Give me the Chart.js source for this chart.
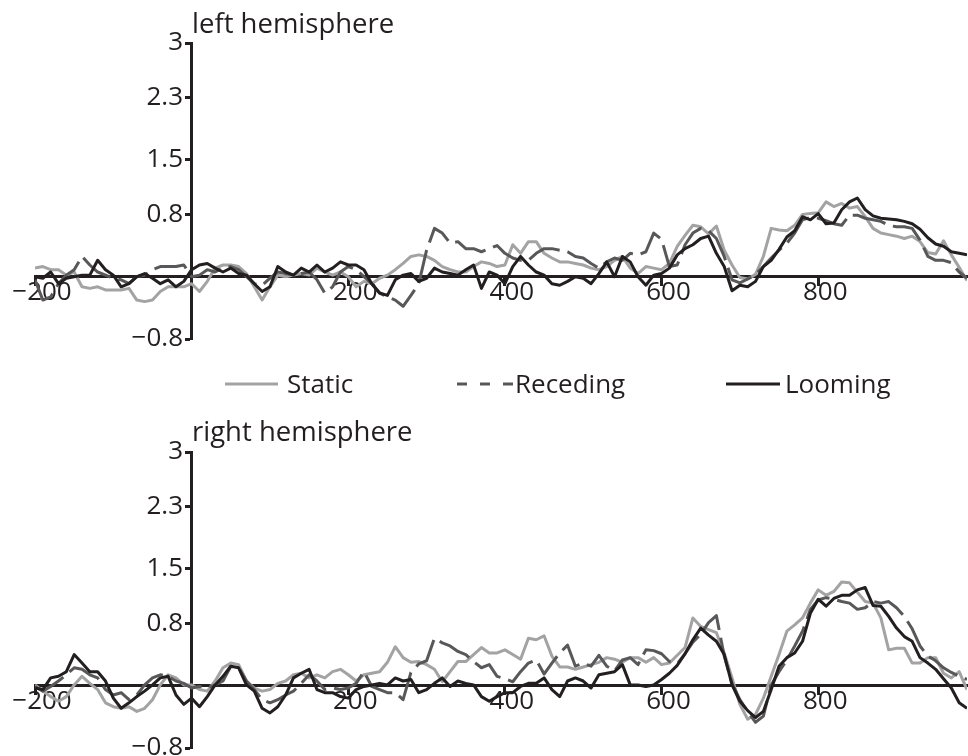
<!DOCTYPE html>
<html>
<head>
<meta charset="utf-8">
<script src="https://cdn.jsdelivr.net/npm/chart.js@4.4.1/dist/chart.umd.min.js"></script>
<style>
    html, body { margin: 0; padding: 0; background: #fff; overflow: hidden; }
    body { width: 968px; height: 756px; position: relative; font-family: "Open Sans", sans-serif; color: #231f20; }
    canvas { position: absolute; left: 0; }
    #topChart { top: 0; }
    #bottomChart { top: 409px; }
    #overlay { position: absolute; left: 0; top: 0; pointer-events: none; }
    #overlay text { font-family: "Open Sans", sans-serif; font-size: 26px; fill: #231f20; }
    #overlay text.title { font-size: 27.5px; }
</style>
</head>
<body>
<canvas id="topChart" width="968" height="365"></canvas>
<canvas id="bottomChart" width="968" height="365"></canvas>
<svg id="overlay" width="968" height="756">
    <text class="title" x="192" y="33">left hemisphere</text>
    <text class="title" x="192" y="441">right hemisphere</text>
    <line x1="225" y1="384" x2="278" y2="384" stroke="#a3a3a3" stroke-width="3"/>
    <text x="287" y="393">Static</text>
    <line x1="457" y1="384" x2="513" y2="384" stroke="#58585a" stroke-width="3" stroke-dasharray="10 13"/>
    <text x="515" y="393">Receding</text>
    <line x1="726" y1="384" x2="780" y2="384" stroke="#231f20" stroke-width="3"/>
    <text x="785" y="393">Looming</text>
</svg>
<script>
// Sample times (ms)
const times = [
    -200, -190, -180, -170, -160, -150, -140, -130, -120, -110,
    -100, -90, -80, -70, -60, -50, -40, -30, -20, -10,
    0, 10, 20, 30, 40, 50, 60, 70, 80, 90,
    100, 110, 120, 130, 140, 150, 160, 170, 180, 190,
    200, 210, 220, 230, 240, 250, 260, 270, 280, 290,
    300, 310, 320, 330, 340, 350, 360, 370, 380, 390,
    400, 410, 420, 430, 440, 450, 460, 470, 480, 490,
    500, 510, 520, 530, 540, 550, 560, 570, 580, 590,
    600, 610, 620, 630, 640, 650, 660, 670, 680, 690,
    700, 710, 720, 730, 740, 750, 760, 770, 780, 790,
    800, 810, 820, 830, 840, 850, 860, 870, 880, 890,
    900, 910, 920, 930, 940, 950, 960, 970, 980, 990
];

// Left hemisphere
const leftStatic = [
    0.11, 0.13, 0.09, 0.09, 0.02, 0.06, -0.13, -0.15, -0.13, -0.17,
    -0.17, -0.17, -0.15, -0.30, -0.32, -0.30, -0.19, -0.13, -0.13, -0.13,
    -0.09, -0.19, -0.06, 0.11, 0.15, 0.15, 0.13, 0.04, -0.13, -0.30,
    -0.13, 0.02, 0.00, 0.02, 0.04, 0.02, 0.11, 0.06, 0.02, 0.06,
    0.00, -0.13, -0.06, -0.09, -0.02, 0.02, 0.09, 0.17, 0.26, 0.28,
    0.26, 0.21, 0.13, 0.09, 0.06, 0.06, 0.13, 0.19, 0.17, 0.13,
    0.15, 0.41, 0.30, 0.45, 0.45, 0.30, 0.24, 0.19, 0.19, 0.17,
    0.15, 0.11, 0.09, 0.13, 0.21, 0.26, 0.11, 0.04, 0.13, 0.11,
    0.09, 0.17, 0.39, 0.53, 0.66, 0.64, 0.55, 0.65, 0.34, 0.15,
    -0.01, -0.03, 0.03, 0.26, 0.62, 0.60, 0.59, 0.66, 0.80, 0.81,
    0.82, 0.96, 0.90, 0.94, 0.88, 0.90, 0.77, 0.62, 0.56, 0.54,
    0.52, 0.49, 0.52, 0.45, 0.31, 0.29, 0.46, 0.28, 0.12, -0.05
];
const leftReceding = [
    -0.04, -0.30, -0.26, -0.09, 0.02, 0.09, 0.26, 0.15, 0.06, 0.02,
    -0.02, -0.04, -0.09, 0.00, 0.02, 0.09, 0.13, 0.13, 0.13, 0.15,
    0.00, 0.02, 0.09, 0.06, 0.11, 0.13, 0.09, 0.00, -0.09, -0.11,
    -0.02, 0.06, 0.04, 0.02, 0.04, 0.06, -0.04, -0.21, -0.13, 0.06,
    0.13, 0.09, 0.00, -0.09, -0.21, -0.26, -0.30, -0.38, -0.24, -0.09,
    0.34, 0.62, 0.56, 0.43, 0.45, 0.36, 0.36, 0.32, 0.36, 0.40,
    0.30, 0.24, 0.21, 0.21, 0.30, 0.36, 0.36, 0.34, 0.32, 0.26,
    0.24, 0.17, 0.11, 0.19, 0.24, 0.21, 0.30, 0.28, 0.32, 0.56,
    0.48, 0.13, 0.15, 0.41, 0.56, 0.62, 0.59, 0.49, 0.26, -0.04,
    -0.08, -0.03, 0.03, 0.13, 0.24, 0.34, 0.43, 0.56, 0.73, 0.76,
    0.75, 0.72, 0.68, 0.66, 0.79, 0.79, 0.75, 0.73, 0.71, 0.66,
    0.64, 0.64, 0.62, 0.47, 0.26, 0.21, 0.21, 0.18, 0.06, -0.02
];
const leftLooming = [
    0.00, -0.02, 0.06, -0.09, -0.02, 0.00, 0.02, 0.02, 0.21, 0.09,
    0.02, -0.13, -0.09, 0.00, 0.04, -0.02, -0.09, -0.04, -0.13, -0.06,
    0.09, 0.15, 0.17, 0.11, 0.06, 0.11, 0.04, 0.02, -0.09, -0.19,
    -0.13, 0.13, 0.06, 0.02, 0.11, 0.06, 0.15, 0.06, 0.11, 0.19,
    0.15, 0.15, 0.09, -0.09, -0.21, -0.24, -0.04, 0.02, 0.04, -0.06,
    -0.02, 0.11, 0.06, 0.04, 0.02, 0.09, 0.15, -0.15, 0.06, 0.02,
    -0.09, 0.13, 0.26, 0.15, 0.06, 0.02, -0.09, -0.11, -0.06, 0.00,
    -0.02, -0.09, 0.04, 0.19, 0.00, 0.26, 0.19, 0.00, -0.11, 0.02,
    0.04, 0.11, 0.28, 0.36, 0.41, 0.49, 0.52, 0.30, 0.13, -0.18,
    -0.11, -0.13, -0.06, 0.13, 0.21, 0.35, 0.51, 0.59, 0.77, 0.73,
    0.81, 0.68, 0.69, 0.86, 0.96, 1.01, 0.86, 0.78, 0.75, 0.74,
    0.73, 0.71, 0.68, 0.61, 0.50, 0.42, 0.39, 0.32, 0.30, 0.28
];

// Right hemisphere
const rightStatic = [
    0.01, -0.07, -0.14, -0.20, -0.14, 0.01, 0.12, 0.03, -0.05, -0.22,
    -0.27, -0.29, -0.27, -0.33, -0.29, -0.18, 0.01, 0.14, 0.10, 0.01,
    0.01, -0.05, -0.07, 0.06, 0.23, 0.29, 0.27, 0.06, -0.03, -0.07,
    -0.05, 0.03, 0.06, 0.14, 0.16, 0.10, 0.14, 0.10, 0.18, 0.21,
    0.14, 0.06, 0.14, 0.16, 0.18, 0.30, 0.50, 0.36, 0.30, 0.31,
    0.27, 0.21, 0.05, 0.18, 0.31, 0.31, 0.40, 0.49, 0.42, 0.42,
    0.46, 0.40, 0.34, 0.61, 0.59, 0.64, 0.38, 0.24, 0.24, 0.21,
    0.24, 0.27, 0.30, 0.36, 0.34, 0.30, 0.36, 0.36, 0.30, 0.36,
    0.27, 0.29, 0.39, 0.49, 0.87, 0.76, 0.72, 0.68, 0.42, 0.10,
    -0.24, -0.43, -0.37, -0.16, 0.12, 0.40, 0.70, 0.78, 0.87, 1.06,
    1.23, 1.16, 1.21, 1.33, 1.32, 1.20, 1.08, 1.06, 0.87, 0.46,
    0.48, 0.48, 0.29, 0.29, 0.36, 0.36, 0.16, 0.10, 0.18, -0.05
];
const rightReceding = [
    -0.01, -0.07, -0.01, 0.06, 0.14, 0.23, 0.21, 0.14, 0.10, -0.05,
    -0.12, -0.09, -0.18, -0.12, 0.01, 0.10, 0.14, 0.12, 0.06, 0.03,
    -0.03, -0.01, -0.03, 0.01, 0.06, 0.25, 0.23, 0.06, -0.05, -0.18,
    -0.22, -0.18, -0.12, -0.07, 0.03, 0.14, 0.06, -0.05, -0.03, -0.05,
    -0.03, 0.03, 0.18, -0.01, -0.05, -0.09, -0.09, -0.18, 0.17, 0.28,
    0.32, 0.61, 0.55, 0.51, 0.44, 0.40, 0.31, 0.23, 0.27, 0.12,
    0.09, 0.05, 0.18, 0.29, 0.33, 0.15, 0.29, 0.42, 0.52, 0.25,
    0.29, 0.25, 0.39, 0.25, 0.19, 0.33, 0.36, 0.27, 0.46, 0.45,
    0.41, 0.31, 0.28, 0.41, 0.56, 0.66, 0.81, 0.90, 0.38, 0.03,
    -0.18, -0.33, -0.47, -0.39, 0.01, 0.18, 0.33, 0.51, 0.70, 0.98,
    1.10, 1.13, 1.11, 1.08, 1.06, 0.98, 1.00, 1.08, 1.06, 1.08,
    1.00, 0.89, 0.73, 0.51, 0.38, 0.32, 0.23, 0.17, 0.12, 0.08
];
const rightLooming = [
    -0.03, -0.05, 0.10, 0.12, 0.18, 0.40, 0.29, 0.18, 0.18, 0.06,
    -0.16, -0.29, -0.22, -0.14, -0.07, 0.01, 0.10, 0.12, -0.12, -0.24,
    -0.16, -0.27, -0.14, 0.01, 0.12, 0.25, 0.23, 0.01, -0.07, -0.29,
    -0.35, -0.27, -0.12, 0.10, 0.16, 0.21, -0.05, -0.09, -0.09, -0.14,
    -0.16, -0.05, -0.01, 0.01, 0.03, 0.01, 0.10, 0.06, 0.08, -0.09,
    -0.05, 0.03, 0.10, -0.01, 0.06, 0.03, 0.01, -0.14, -0.20, -0.14,
    -0.09, -0.09, -0.01, 0.03, 0.03, 0.10, -0.05, -0.14, 0.06, 0.10,
    0.06, -0.03, 0.14, 0.16, 0.18, 0.27, 0.01, 0.01, -0.01, 0.01,
    0.08, 0.16, 0.26, 0.41, 0.59, 0.74, 0.65, 0.57, 0.40, 0.01,
    -0.20, -0.32, -0.41, -0.33, -0.05, 0.25, 0.36, 0.42, 0.57, 0.93,
    1.11, 1.02, 1.12, 1.16, 1.16, 1.23, 1.26, 1.03, 1.02, 0.89,
    0.74, 0.63, 0.57, 0.36, 0.29, 0.21, 0.09, -0.03, -0.22, -0.29
];

// Axis ticks
const xTicks = [-200, 200, 400, 600, 800];
const yTicks = [-0.8, 0.8, 1.5, 2.3, 3];

const ink = '#231f20';
const tickFont = { family: '"Open Sans", sans-serif', size: 26 };

function fmt(v) {
    return String(v).replace('-', '\u2212');
}

function toPoints(vals) {
    return times.map((t, i) => ({ x: t, y: vals[i] }));
}

function panelConfig(staticVals, recedingVals, loomingVals) {
    return {
        type: 'line',
        data: {
            datasets: [
                { label: 'Static', data: toPoints(staticVals), borderColor: '#a3a3a3', borderWidth: 3, order: 3 },
                { label: 'Receding', data: toPoints(recedingVals), borderColor: '#58585a', borderWidth: 3, borderDash: [34, 8], order: 2 },
                { label: 'Looming', data: toPoints(loomingVals), borderColor: ink, borderWidth: 3, order: 1 }
            ]
        },
        options: {
            responsive: false,
            animation: false,
            layout: { padding: { left: 35, right: 1, top: 43, bottom: 26 } },
            elements: { point: { radius: 0 }, line: { tension: 0, borderJoinStyle: 'round' } },
            plugins: { legend: { display: false }, tooltip: { enabled: false } },
            scales: {
                x: {
                    type: 'linear', min: -200, max: 990, position: { y: 0 }, z: 1,
                    afterBuildTicks: scale => { scale.ticks = xTicks.map(v => ({ value: v })); },
                    border: { color: ink, width: 3 },
                    grid: { drawOnChartArea: false, drawTicks: true, tickLength: 8, tickWidth: 3, tickColor: ink },
                    ticks: { autoSkip: false, maxRotation: 0, padding: -8, labelOffset: 7, color: ink, font: tickFont, callback: v => fmt(v) }
                },
                y: {
                    type: 'linear', min: -0.8, max: 3, position: { x: 0 }, z: 1,
                    afterBuildTicks: scale => { scale.ticks = yTicks.map(v => ({ value: v })); },
                    border: { color: ink, width: 3 },
                    grid: { drawOnChartArea: false, drawTicks: true, tickLength: 5, tickWidth: 3, tickColor: ink },
                    ticks: { color: ink, font: tickFont, callback: v => fmt(v) + '\u2009\u2009' }
                }
            }
        }
    };
}

new Chart(document.getElementById('topChart'), panelConfig(leftStatic, leftReceding, leftLooming));
new Chart(document.getElementById('bottomChart'), panelConfig(rightStatic, rightReceding, rightLooming));
</script>
</body>
</html>
